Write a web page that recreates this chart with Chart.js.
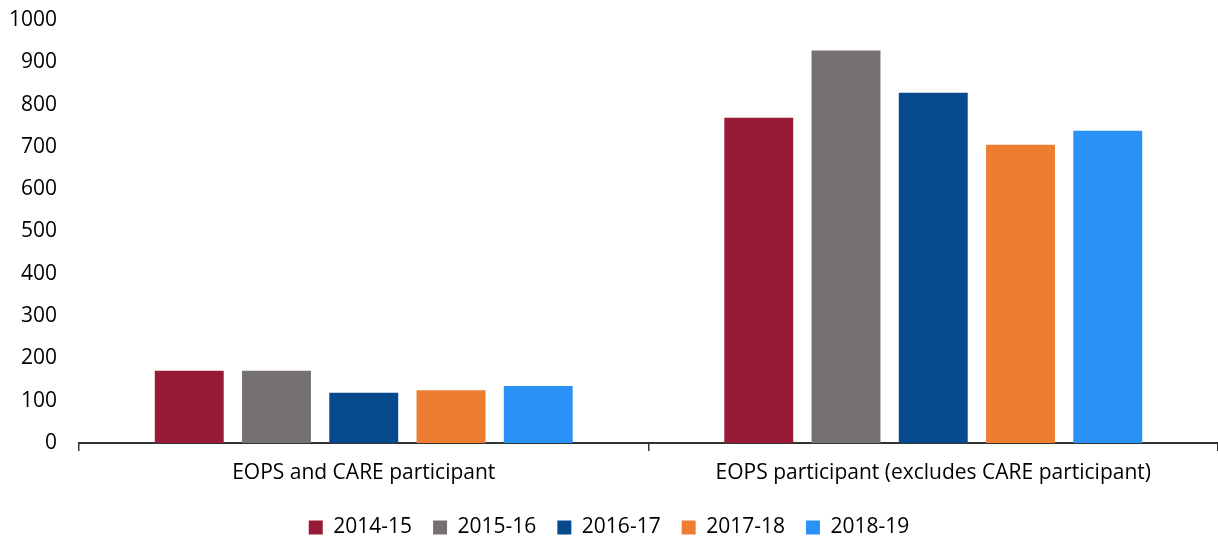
<!DOCTYPE html>
<html>
<head>
<meta charset="utf-8">
<script src="https://cdn.jsdelivr.net/npm/chart.js@4"></script>
<style>
  html, body { margin:0; padding:0; background:#fff; }
  #wrap { width:1218px; height:539px; }
</style>
</head>
<body>
<div id="wrap"><canvas id="myChart" width="1218" height="539"></canvas></div>
<script>
// categories + series
const categories = ["EOPS and CARE participant", "EOPS participant (excludes CARE participant)"];
const years = ["2014-15", "2015-16", "2016-17", "2017-18", "2018-19"];
const v2014 = [171, 769];
const v2015 = [171, 928];
const v2016 = [119, 828];
const v2017 = [125, 705];
const v2018 = [135, 738];
const yTicks = [0, 100, 200, 300, 400, 500, 600, 700, 800, 900, 1000];

const colors = ["#971B36", "#767171", "#064A8D", "#ED7D31", "#2A91F7"];
const series = [v2014, v2015, v2016, v2017, v2018];

Chart.defaults.font.family = "'Open Sans', Lato, sans-serif";
Chart.defaults.color = "#000";

// legend height fixed so the plot keeps its place
const legendBox = {
    id: "legendBox",
    beforeInit(chart) {
        const lg = chart.legend;
        if (lg && !lg._patched) {
            const fit = lg.fit.bind(lg);
            lg.fit = function () { fit(); this.height = 43; };
            lg._patched = true;
        }
    }
};

new Chart(document.getElementById("myChart"), {
    type: "bar",
    data: {
        labels: categories,
        datasets: years.map((y, i) => ({
            label: y,
            data: series[i],
            backgroundColor: colors[i],
            borderWidth: 0,
            barPercentage: 0.79,
            categoryPercentage: 0.766
        }))
    },
    options: {
        responsive: false,
        animation: false,
        layout: { padding: { top: 20, right: 0, left: 0, bottom: 0 } },
        plugins: {
            tooltip: { enabled: false },
            legend: {
                position: "bottom",
                labels: {
                    boxWidth: 14,
                    boxHeight: 14,
                    padding: 21,
                    font: { size: 21 }
                }
            }
        },
        scales: {
            y: {
                min: 0,
                max: 1000,
                afterBuildTicks: (axis) => { axis.ticks = yTicks.map(v => ({ value: v })); },
                afterFit: (axis) => { axis.width = 79; axis.paddingTop = 0; axis.paddingBottom = 0; },
                grid: { display: false, drawTicks: false },
                border: { display: false },
                ticks: { padding: 22, font: { size: 21 }, callback: (v) => String(v) }
            },
            x: {
                afterFit: (axis) => { axis.height = 53; },
                grid: {
                    display: true,
                    drawOnChartArea: false,
                    drawTicks: true,
                    tickLength: 8,
                    color: "#333",
                    lineWidth: 1.5,
                    offset: true
                },
                border: { display: true, color: "#333", width: 2 },
                ticks: { padding: 9, font: { size: 21 } }
            }
        }
    },
    plugins: [legendBox]
});
</script>
</body>
</html>
